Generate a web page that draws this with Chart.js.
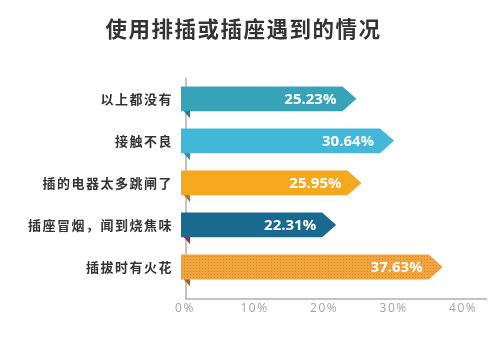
<!DOCTYPE html>
<html>
<head>
<meta charset="utf-8">
<script src="https://cdn.jsdelivr.net/npm/chart.js@4/dist/chart.umd.min.js"></script>
<style>
  html, body { margin: 0; padding: 0; background: #fff; }
  #wrap { width: 499px; height: 350px; }
</style>
</head>
<body>
<div id="wrap"><canvas id="chartSockets"></canvas></div>
<script>
// survey answers, top to bottom
const categories = ["以上都没有", "接触不良", "插的电器太多跳闸了", "插座冒烟，闻到烧焦味", "插拔时有火花"];
const shares = [25.23, 30.64, 25.95, 22.31, 37.63];
const tickValues = [0, 10, 20, 30, 40];

const barColors  = ["#37a3b9", "#42b7d8", "#f4a81d", "#1a6a8f", "#f1a43e"];
const foldColors = ["#1d7d92", "#2a8ba8", "#a8782a", "#b3175a", "#9c6a28"];

const CJK = "'Noto Sans CJK SC', 'Noto Sans', sans-serif";

function byId(id){ return document.getElementById(id); }

// dotted fill for the last bar
function dotPattern(ctx){
  const c = document.createElement("canvas");
  c.width = 3; c.height = 3;
  const g = c.getContext("2d");
  g.fillStyle = "#f1a43e"; g.fillRect(0, 0, 3, 3);
  g.fillStyle = "#d98b2a"; g.fillRect(1, 1, 1, 1);
  return ctx.createPattern(c, "repeat");
}

const TIP = 14;

const arrowBars = {
  id: "arrowBars",
  beforeDraw(chart){ chart.ctx.letterSpacing = "1.5px"; },
  beforeDatasetsDraw(chart){
    const ctx = chart.ctx, area = chart.chartArea;
    ctx.letterSpacing = "0px";
    const x0 = chart.scales.x.getPixelForValue(0) + 5;
    const yb = area.bottom + 11;
    ctx.save();
    ctx.strokeStyle = "#b0b0b0"; ctx.lineWidth = 1.5;
    ctx.beginPath();
    ctx.moveTo(x0, area.top); ctx.lineTo(x0, yb); ctx.lineTo(area.right, yb);
    ctx.stroke();
    ctx.restore();
  },
  beforeDatasetDraw(){ return false; },
  afterDatasetsDraw(chart){
    const ctx = chart.ctx;
    const meta = chart.getDatasetMeta(0);
    const pat = dotPattern(ctx);
    meta.data.forEach((bar, i) => {
      const p = bar.getProps(["x", "y", "base", "height"], true);
      const top = p.y - p.height / 2, bot = p.y + p.height / 2;
      ctx.save();
      // folded corner under the bar
      ctx.fillStyle = foldColors[i];
      ctx.beginPath();
      ctx.moveTo(p.base + 2, bot - 1); ctx.lineTo(p.base + 9, bot - 1); ctx.lineTo(p.base + 9, bot + 7);
      ctx.closePath(); ctx.fill();
      // arrow-shaped body
      ctx.fillStyle = i === 4 ? pat : barColors[i];
      ctx.beginPath();
      ctx.moveTo(p.base, top); ctx.lineTo(p.x - TIP, top); ctx.lineTo(p.x, p.y);
      ctx.lineTo(p.x - TIP, bot); ctx.lineTo(p.base, bot);
      ctx.closePath(); ctx.fill();
      // value label
      ctx.fillStyle = "#ffffff";
      ctx.font = "bold 15px 'Open Sans', sans-serif";
      ctx.textAlign = "right"; ctx.textBaseline = "middle";
      ctx.fillText(shares[i].toFixed(2) + "%", p.x - 20, p.y + 1);
      ctx.restore();
    });
  }
};

new Chart(byId("chartSockets").getContext("2d"), {
  type: "bar",
  data: {
    labels: categories,
    datasets: [{ label: "占比", data: shares, backgroundColor: barColors,
      barPercentage: 1, categoryPercentage: 0.59 }]
  },
  options: {
    indexAxis: "y",
    responsive: true,
    maintainAspectRatio: false,
    animation: false,
    layout: { padding: { left: 0, right: 12, top: 0, bottom: 35 } },
    plugins: {
      legend: { display: false },
      tooltip: { enabled: false },
      title: {
        display: true,
        text: "使用排插或插座遇到的情况",
        color: "#333",
        font: { family: CJK, size: 21.5, weight: "bold" },
        padding: { top: 16, bottom: 36 }
      }
    },
    scales: {
      x: {
        min: 0, max: 44,
        afterBuildTicks: s => { s.ticks = tickValues.map(v => ({ value: v })); },
        afterFit: s => { s.height = 27; },
        grid: { display: false, drawTicks: false },
        border: { display: false },
        ticks: {
          padding: 13, labelOffset: 4, color: "#a3a3a3",
          font: { family: "'Open Sans', sans-serif", size: 12 },
          callback: v => v + "%"
        }
      },
      y: {
        afterFit: s => { s.width = 181; },
        grid: { display: false, drawTicks: false },
        border: { display: false },
        ticks: { padding: 8, color: "#333", font: { family: CJK, size: 13, weight: "bold" } }
      }
    }
  },
  plugins: [arrowBars]
});
</script>
</body>
</html>
